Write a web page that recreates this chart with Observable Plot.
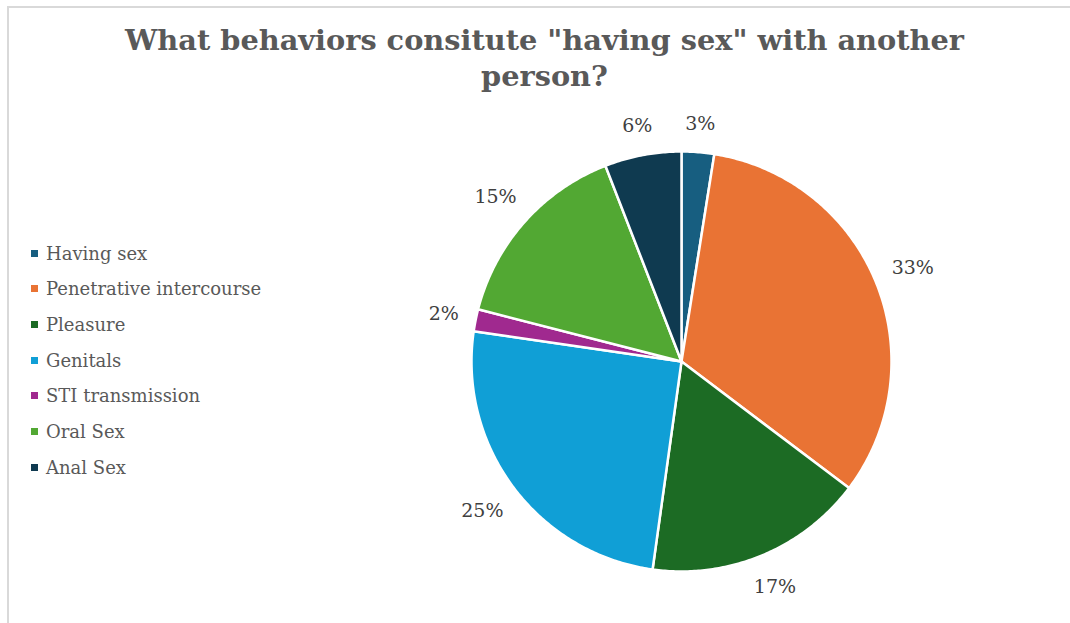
<!DOCTYPE html>
<html>
<head>
<meta charset="utf-8">
<script src="https://cdn.jsdelivr.net/npm/d3@7"></script>
<script src="https://cdn.jsdelivr.net/npm/@observablehq/plot@0.6"></script>
<style>
  html, body { margin: 0; padding: 0; background: #fff; overflow: hidden; }
  #wrap { position: relative; width: 1070px; height: 623px; overflow: hidden; background: #fff; }
  #frameL { position: absolute; left: 7px; top: 6px; width: 2px; height: 617px; background: #d9d9d9; }
  #frameT { position: absolute; left: 7px; top: 6px; width: 1063px; height: 2px; background: #d9d9d9; }
  #title { position: absolute; left: 0; top: 22px; width: 1089px; text-align: center;
           font-family: "DejaVu Serif", serif; font-weight: bold; font-size: 28.8px; line-height: 36px; color: #595959; }
  #chart { position: absolute; left: 0; top: 100px; }
  #legend { position: absolute; left: 31px; top: 0; font-family: "DejaVu Serif", serif; font-size: 18px; color: #595959; }
  .item { position: absolute; left: 0; white-space: nowrap; display: flex; align-items: center; height: 20px; }
  .sw { width: 7px; height: 7px; margin-right: 8px; }
</style>
</head>
<body>
<div id="wrap">
  <div id="frameL"></div><div id="frameT"></div>
  <div id="title">What behaviors consitute "having sex" with another<br>person?</div>
  <div id="chart"></div>
  <div id="legend"></div>
</div>
<script>
// ---- data ----
const categories = ["Having sex", "Penetrative intercourse", "Pleasure", "Genitals", "STI transmission", "Oral Sex", "Anal Sex"];
const values = [2.5, 32.8, 16.9, 25.1, 1.7, 15.1, 5.9];
const colors = ["#175e80", "#e97334", "#1c6b24", "#109fd6", "#a0298f", "#52a833", "#0f3a50"];

// ---- layout ----
const W = 1070, H = 523;
const cx = 681, cy = 261, R = 210; // pie centre & radius in svg px

const total = d3.sum(values);
const pie = d3.pie().sort(null).value(d => d)(values);

// slice polygons in unit coordinates (angle clockwise from top)
const slicePts = [];
pie.forEach((p, i) => {
  const n = Math.max(2, Math.ceil((p.endAngle - p.startAngle) / 0.01));
  slicePts.push({cat: categories[i], x: 0, y: 0});
  for (let k = 0; k <= n; k++) {
    const a = p.startAngle + (p.endAngle - p.startAngle) * k / n;
    slicePts.push({cat: categories[i], x: Math.sin(a), y: Math.cos(a)});
  }
  slicePts.push({cat: categories[i], x: 0, y: 0});
});

// labels outside the pie
const labelFont = 19;
const labels = pie.map((p, i) => {
  const a = (p.startAngle + p.endAngle) / 2;
  const txt = Math.round(values[i] / total * 100) + "%";
  const hw = txt.length * 6.4, hh = 9.5;
  const off = (18 + hw * Math.abs(Math.sin(a)) + hh * Math.abs(Math.cos(a))) / R;
  return {cat: categories[i], text: txt, x: Math.sin(a) * (1 + off), y: Math.cos(a) * (1 + off)};
});

const chart = Plot.plot({
  width: W, height: H,
  margin: 0,
  x: {domain: [-cx / R, (W - cx) / R], axis: null},
  y: {domain: [(cy - H) / R, cy / R], axis: null},
  color: {domain: categories, range: colors},
  style: {background: "transparent"},
  marks: [
    Plot.line(slicePts, {x: "x", y: "y", z: "cat", fill: "cat", stroke: "#fff", strokeWidth: 2.5, strokeLinejoin: "round", curve: "linear"}),
    Plot.text(labels, {x: "x", y: "y", text: "text", fill: "#404040", fontSize: labelFont, fontFamily: "DejaVu Serif, serif"})
  ]
});
document.getElementById("chart").appendChild(chart);

// legend
const legend = document.getElementById("legend");
const legendTop = 243, legendStep = 35.7;
categories.forEach((c, i) => {
  const it = document.createElement("div");
  it.className = "item";
  it.style.top = (legendTop + i * legendStep) + "px";
  const sw = document.createElement("span");
  sw.className = "sw";
  sw.style.background = colors[i];
  it.appendChild(sw);
  it.appendChild(document.createTextNode(c));
  legend.appendChild(it);
});
</script>
</body>
</html>
